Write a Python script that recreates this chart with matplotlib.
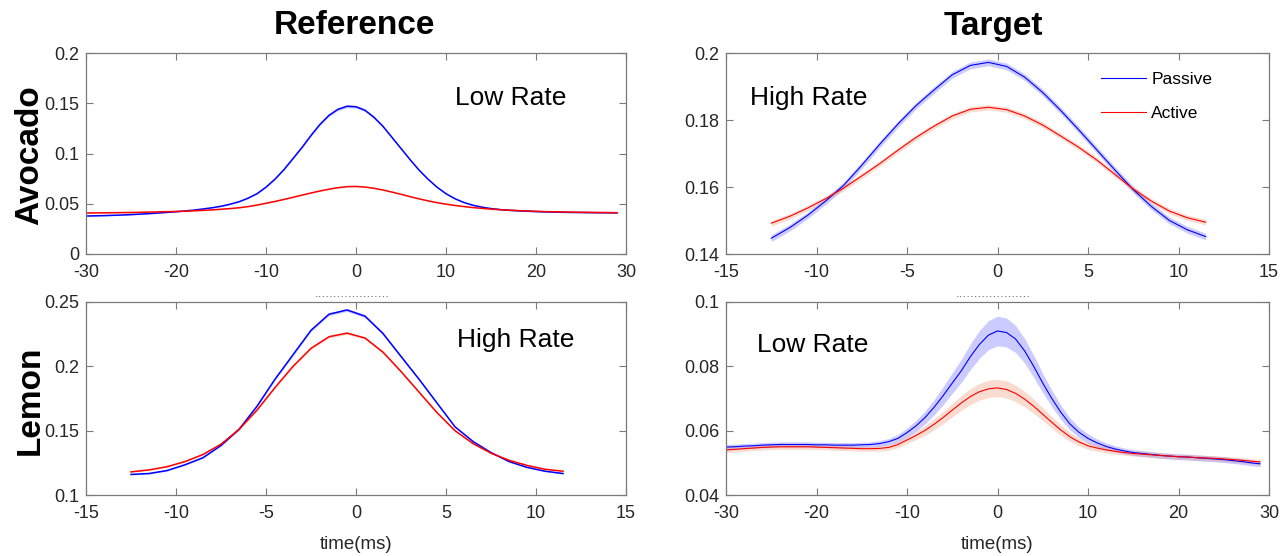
import numpy as np
import matplotlib
matplotlib.use('Agg')
import matplotlib.pyplot as plt

plt.rcParams['font.family'] = ['Liberation Sans', 'DejaVu Sans']
plt.rcParams['axes.unicode_minus'] = False

# ---------------- data ----------------
t_wide = list(range(-30, 30))                 # -30 .. 29 ms
t_narrow = list(np.arange(-12.5, 12.0, 1.0))  # -12.5 .. 11.5 ms

# Avocado / Reference (Low Rate)
av_ref_passive = [0.0378, 0.0380, 0.0382, 0.0385, 0.0388, 0.0392, 0.0397, 0.0402, 0.0408, 0.0414,
                  0.0421, 0.0428, 0.0437, 0.0448, 0.0460, 0.0475, 0.0495, 0.0520, 0.0555, 0.0600,
                  0.0665, 0.0745, 0.0840, 0.0950, 0.1060, 0.1180, 0.1290, 0.1380, 0.1440, 0.1470,
                  0.1465, 0.1430, 0.1360, 0.1270, 0.1160, 0.1050, 0.0940, 0.0835, 0.0745, 0.0665,
                  0.0600, 0.0550, 0.0512, 0.0485, 0.0466, 0.0452, 0.0442, 0.0435, 0.0430, 0.0426,
                  0.0422, 0.0419, 0.0417, 0.0415, 0.0414, 0.0413, 0.0412, 0.0411, 0.0411, 0.0410]
av_ref_active = [0.0408, 0.0409, 0.0410, 0.0411, 0.0412, 0.0413, 0.0415, 0.0417, 0.0419, 0.0421,
                 0.0423, 0.0426, 0.0430, 0.0434, 0.0439, 0.0445, 0.0452, 0.0460, 0.0472, 0.0487,
                 0.0505, 0.0523, 0.0543, 0.0564, 0.0586, 0.0607, 0.0627, 0.0645, 0.0660, 0.0670,
                 0.0672, 0.0666, 0.0654, 0.0637, 0.0616, 0.0594, 0.0571, 0.0549, 0.0529, 0.0511,
                 0.0496, 0.0483, 0.0472, 0.0462, 0.0454, 0.0447, 0.0441, 0.0436, 0.0432, 0.0428,
                 0.0425, 0.0422, 0.0420, 0.0418, 0.0416, 0.0415, 0.0414, 0.0413, 0.0412, 0.0411]
av_ref_passive_err = [0.0004] * 19 + [0.0006, 0.0006, 0.0007, 0.0008, 0.0009, 0.0010, 0.0011, 0.0012,
                      0.0013, 0.0014, 0.0015, 0.0015, 0.0014, 0.0013, 0.0012, 0.0011, 0.0010, 0.0009,
                      0.0008, 0.0007, 0.0006, 0.0005] + [0.0004] * 19
av_ref_active_err = [0.0003] * 60

# Avocado / Target (High Rate)
av_tgt_passive = [0.1447, 0.1478, 0.1515, 0.1558, 0.1605, 0.1665, 0.1728, 0.1788, 0.1843, 0.1890,
                  0.1935, 0.1963, 0.1972, 0.1960, 0.1928, 0.1882, 0.1828, 0.1770, 0.1710, 0.1650,
                  0.1592, 0.1542, 0.1500, 0.1472, 0.1452]
av_tgt_active = [0.1492, 0.1512, 0.1537, 0.1565, 0.1597, 0.1633, 0.1670, 0.1710, 0.1748, 0.1782,
                 0.1812, 0.1832, 0.1838, 0.1831, 0.1812, 0.1785, 0.1752, 0.1718, 0.1680, 0.1637,
                 0.1594, 0.1558, 0.1528, 0.1508, 0.1495]
av_tgt_passive_err = [0.0010] * 25
av_tgt_active_err = [0.0008] * 25

# Lemon / Reference (High Rate)
le_ref_passive = [0.1160, 0.1167, 0.1190, 0.1235, 0.1290, 0.1385, 0.1510, 0.1690, 0.1900, 0.2090,
                  0.2280, 0.2405, 0.2438, 0.2390, 0.2255, 0.2077, 0.1900, 0.1715, 0.1530, 0.1416,
                  0.1330, 0.1260, 0.1215, 0.1185, 0.1167]
le_ref_active = [0.1180, 0.1195, 0.1220, 0.1260, 0.1315, 0.1395, 0.1510, 0.1660, 0.1835, 0.2000,
                 0.2140, 0.2230, 0.2258, 0.2220, 0.2110, 0.1960, 0.1800, 0.1640, 0.1500, 0.1400,
                 0.1325, 0.1270, 0.1230, 0.1200, 0.1185]
le_ref_passive_err = [0.0005, 0.0005, 0.0005, 0.0005, 0.0006, 0.0006, 0.0007, 0.0008, 0.0009, 0.0010,
                      0.0011, 0.0012, 0.0012, 0.0012, 0.0011, 0.0010, 0.0009, 0.0008, 0.0007, 0.0006,
                      0.0006, 0.0005, 0.0005, 0.0005, 0.0005]
le_ref_active_err = [0.0004, 0.0004, 0.0004, 0.0004, 0.0005, 0.0005, 0.0006, 0.0007, 0.0008, 0.0009,
                     0.0010, 0.0010, 0.0010, 0.0010, 0.0010, 0.0009, 0.0008, 0.0007, 0.0006, 0.0005,
                     0.0005, 0.0004, 0.0004, 0.0004, 0.0004]

# Lemon / Target (Low Rate)
le_tgt_passive = [0.0549, 0.0550, 0.0552, 0.0553, 0.0555, 0.0556, 0.0557, 0.0557, 0.0557, 0.0557,
                  0.0556, 0.0556, 0.0555, 0.0555, 0.0555, 0.0556, 0.0557, 0.0560, 0.0566, 0.0576,
                  0.0594, 0.0615, 0.0641, 0.0673, 0.0709, 0.0748, 0.0786, 0.0830, 0.0868, 0.0897,
                  0.0910, 0.0905, 0.0885, 0.0848, 0.0800, 0.0748, 0.0700, 0.0657, 0.0621, 0.0595,
                  0.0576, 0.0562, 0.0551, 0.0543, 0.0537, 0.0532, 0.0529, 0.0526, 0.0523, 0.0521,
                  0.0519, 0.0518, 0.0516, 0.0514, 0.0512, 0.0510, 0.0507, 0.0504, 0.0500, 0.0497]
le_tgt_active = [0.0540, 0.0542, 0.0544, 0.0546, 0.0548, 0.0549, 0.0550, 0.0550, 0.0550, 0.0550,
                 0.0549, 0.0548, 0.0547, 0.0546, 0.0545, 0.0544, 0.0544, 0.0545, 0.0548, 0.0557,
                 0.0571, 0.0585, 0.0601, 0.0620, 0.0641, 0.0664, 0.0686, 0.0706, 0.0721, 0.0730,
                 0.0733, 0.0728, 0.0716, 0.0698, 0.0676, 0.0651, 0.0626, 0.0602, 0.0581, 0.0565,
                 0.0553, 0.0546, 0.0540, 0.0536, 0.0532, 0.0529, 0.0527, 0.0525, 0.0523, 0.0521,
                 0.0519, 0.0518, 0.0516, 0.0515, 0.0514, 0.0512, 0.0510, 0.0508, 0.0505, 0.0503]
le_tgt_passive_err = [0.0008] * 17 + [0.0009, 0.0010, 0.0012, 0.0014, 0.0017, 0.0020, 0.0024, 0.0028,
                      0.0032, 0.0036, 0.0040, 0.0043, 0.0045, 0.0046, 0.0045, 0.0042, 0.0038, 0.0034,
                      0.0030, 0.0026, 0.0022, 0.0019, 0.0016, 0.0014, 0.0012, 0.0011, 0.0010] + [0.0009] * 16
le_tgt_active_err = [0.0008] * 17 + [0.0008, 0.0009, 0.0010, 0.0011, 0.0013, 0.0015, 0.0017, 0.0019,
                     0.0021, 0.0023, 0.0025, 0.0026, 0.0027, 0.0027, 0.0027, 0.0026, 0.0024, 0.0022,
                     0.0020, 0.0018, 0.0016, 0.0014, 0.0012, 0.0011, 0.0010, 0.0009, 0.0009] + [0.0008] * 16

col_titles = ['Reference', 'Target']
row_titles = ['Avocado', 'Lemon']
series_names = ['Passive', 'Active']

panels = [
    dict(t=t_wide, p=av_ref_passive, a=av_ref_active, pe=av_ref_passive_err, ae=av_ref_active_err,
         xlim=(-30, 30), xticks=[-30, -20, -10, 0, 10, 20, 30], ylim=(0, 0.2),
         yticks=[0, 0.05, 0.1, 0.15, 0.2], ylabels=['0', '0.05', '0.1', '0.15', '0.2'],
         label='Low Rate', lpos=(0.683, 0.776), lw=1.1),
    dict(t=t_narrow, p=av_tgt_passive, a=av_tgt_active, pe=av_tgt_passive_err, ae=av_tgt_active_err,
         xlim=(-15, 15), xticks=[-15, -10, -5, 0, 5, 10, 15], ylim=(0.14, 0.2),
         yticks=[0.14, 0.16, 0.18, 0.2], ylabels=['0.14', '0.16', '0.18', '0.2'],
         label='High Rate', lpos=(0.044, 0.776), lw=0.8),
    dict(t=t_narrow, p=le_ref_passive, a=le_ref_active, pe=le_ref_passive_err, ae=le_ref_active_err,
         xlim=(-15, 15), xticks=[-15, -10, -5, 0, 5, 10, 15], ylim=(0.1, 0.25),
         yticks=[0.1, 0.15, 0.2, 0.25], ylabels=['0.1', '0.15', '0.2', '0.25'],
         label='High Rate', lpos=(0.687, 0.803), lw=1.1),
    dict(t=t_wide, p=le_tgt_passive, a=le_tgt_active, pe=le_tgt_passive_err, ae=le_tgt_active_err,
         xlim=(-30, 30), xticks=[-30, -20, -10, 0, 10, 20, 30], ylim=(0.04, 0.1),
         yticks=[0.04, 0.06, 0.08, 0.1], ylabels=['0.04', '0.06', '0.08', '0.1'],
         label='Low Rate', lpos=(0.057, 0.777), lw=0.8),
]

W, H = 1284, 556
fig = plt.figure(figsize=(W / 100, H / 100), dpi=100)

rects = [
    (86, 53, 626, 254), (726, 53, 1269, 254),
    (86, 302, 626, 495), (726, 302, 1269, 495),
]

spine_col = '#7a7a7a'
text_col = '#262626'
axes = []
for i, (pnl, (x0, y0, x1, y1)) in enumerate(zip(panels, rects)):
    ax = fig.add_axes([x0 / W, 1 - y1 / H, (x1 - x0) / W, (y1 - y0) / H])
    t = np.asarray(pnl['t'])
    p = np.asarray(pnl['p']); a = np.asarray(pnl['a'])
    pe = np.asarray(pnl['pe']); ae = np.asarray(pnl['ae'])
    ax.fill_between(t, p - pe, p + pe, color=(0.2, 0.2, 1.0), alpha=0.25, lw=0)
    ax.fill_between(t, a - ae, a + ae, color=(0.92, 0.5, 0.35), alpha=0.28, lw=0)
    ax.plot(t, p, color=(0, 0, 1), lw=pnl['lw'], label=series_names[0])
    ax.plot(t, a, color=(1, 0, 0), lw=pnl['lw'], label=series_names[1])
    ax.set_xlim(*pnl['xlim']); ax.set_ylim(*pnl['ylim'])
    ax.set_xticks(pnl['xticks'])
    ax.set_yticks(pnl['yticks']); ax.set_yticklabels(pnl['ylabels'])
    ax.tick_params(direction='in', top=True, right=True, length=5, width=0.8,
                   color=spine_col, labelcolor=text_col, labelsize=13)
    ax.tick_params(axis='x', pad=7)
    ax.tick_params(axis='y', pad=5)
    for s in ax.spines.values():
        s.set_color(spine_col); s.set_linewidth(0.9)
    ax.text(pnl['lpos'][0], pnl['lpos'][1], pnl['label'], transform=ax.transAxes,
            fontsize=19, ha='left', va='center', color='black')
    if i >= 2:
        ax.set_xlabel('time(ms)', fontsize=13.5, color=text_col, labelpad=10)
        ax.text(0.492, 1.0, '\u00b7' * 20, transform=ax.transAxes, fontsize=8,
                color='#333333', ha='center', va='bottom')
    axes.append(ax)

leg = axes[1].legend(loc='upper left', bbox_to_anchor=(0.662, 0.985), frameon=False,
                     fontsize=12.5, handlelength=2.6, labelspacing=1.1, handletextpad=0.3)

fig.text(354 / W, 1 - 25 / H, col_titles[0], fontsize=24, fontweight='bold', ha='center', va='center')
fig.text(993 / W, 1 - 26 / H, col_titles[1], fontsize=24, fontweight='bold', ha='center', va='center')
fig.text(30 / W, 1 - 155 / H, row_titles[0], fontsize=24, fontweight='bold', ha='center', va='center',
         rotation=90)
fig.text(30 / W, 1 - 400 / H, row_titles[1], fontsize=24, fontweight='bold', ha='center', va='center',
         rotation=90)

fig.savefig('out.png', dpi=100)
